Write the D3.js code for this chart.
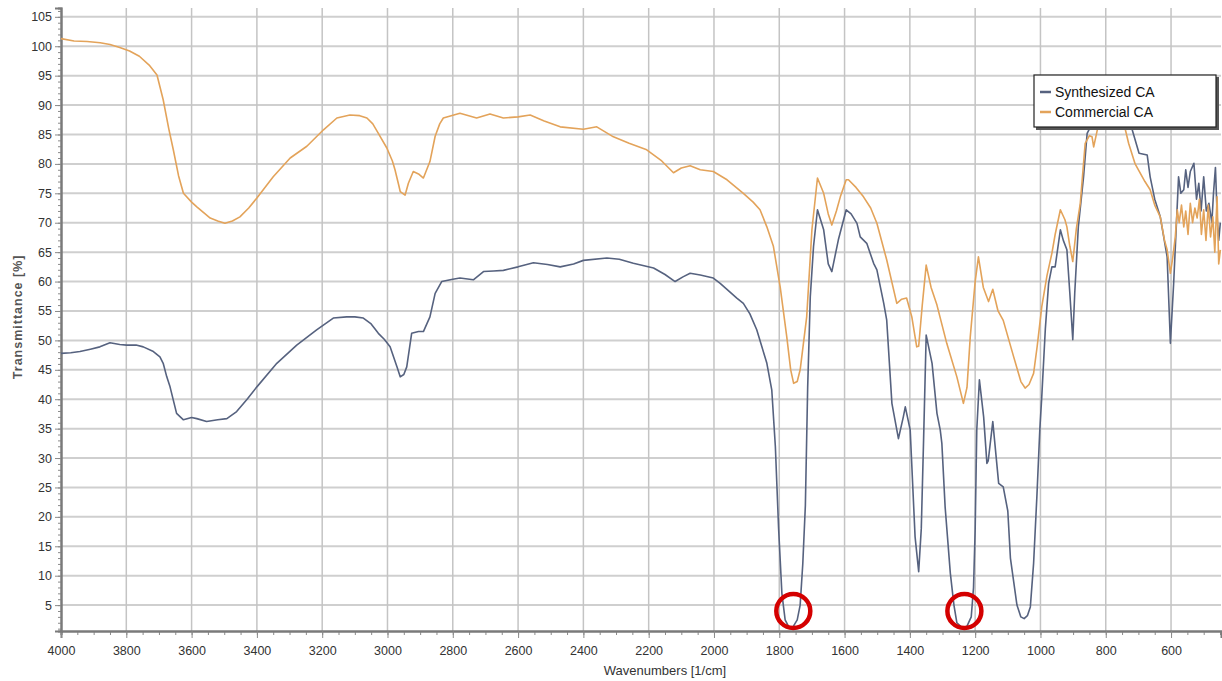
<!DOCTYPE html>
<html><head><meta charset="utf-8">
<script src="https://cdn.jsdelivr.net/npm/d3@7"></script>
<style>
html,body{margin:0;padding:0;background:#fff;}
svg{display:block;}
text{font-family:"Liberation Sans",Arial,sans-serif;}
</style></head>
<body>
<svg id="chart" width="1222" height="681"></svg>
<script>
const seriesNames = ["Synthesized CA", "Commercial CA"];
const seriesColors = ["#56627f", "#e3a35a"];

const synthesized = [
[4000,47.8],[3970,47.9],[3942,48.1],[3910,48.5],[3881,48.9],[3850,49.6],[3820,49.3],[3799,49.2],[3770,49.2],[3748,48.9],[3717,48.1],[3697,47.2],[3687,46.1],[3676,43.8],[3666,42.1],[3646,37.6],[3625,36.5],[3600,36.9],[3584,36.7],[3554,36.2],[3520,36.5],[3492,36.7],[3462,37.9],[3430,40],[3400,42.1],[3339,46.1],[3278,49.2],[3217,51.8],[3166,53.8],[3125,54.0],[3100,54.0],[3074,53.8],[3050,52.8],[3028,51.2],[3010,50.2],[2992,48.9],[2971,45.5],[2961,43.8],[2950,44.2],[2941,45.5],[2926,51.2],[2905,51.5],[2890,51.5],[2870,54.0],[2854,58.0],[2834,60.0],[2800,60.4],[2778,60.6],[2737,60.3],[2706,61.7],[2675,61.8],[2645,61.9],[2600,62.5],[2553,63.2],[2510,62.9],[2471,62.5],[2430,63],[2400,63.6],[2328,64.0],[2290,63.8],[2247,63.1],[2185,62.3],[2150,61.2],[2119,60.0],[2095,60.8],[2073,61.4],[2042,61.1],[2002,60.6],[1981,59.7],[1930,57.2],[1910,56.3],[1890,54.5],[1869,51.8],[1838,46.1],[1823,41.6],[1812,32],[1802,18],[1792,7],[1782,2.5],[1770,1.2],[1758,1.3],[1745,2.5],[1736,5],[1728,12],[1720,22],[1713,42],[1705,57.4],[1695,66.0],[1683,72.2],[1664,68.8],[1650,63],[1639,61.7],[1619,67.1],[1595,72.2],[1580,71.5],[1562,69.9],[1552,67.6],[1532,66.5],[1511,63.1],[1501,62],[1480,56.3],[1471,53.5],[1455,39.3],[1435,33.3],[1420,37],[1414,38.7],[1399,34.8],[1384,16.6],[1373,10.7],[1365,18],[1358,33],[1350,50.9],[1332,46.1],[1317,37.6],[1307,34.8],[1302,32.5],[1292,21.7],[1276,10.4],[1265,5],[1256,2],[1240,1.2],[1226,1.3],[1212,3],[1205,8],[1200,17.8],[1195,34.8],[1187,43.3],[1174,37.0],[1164,29.1],[1160,29.5],[1146,36.2],[1128,25.7],[1114,25.1],[1100,21],[1092,13],[1082,9],[1072,5],[1060,3],[1050,2.7],[1040,3.2],[1031,4.7],[1021,12.1],[1011,23.4],[1002,34.8],[996,40.4],[985,52],[975,59.7],[965,62.5],[955,62.5],[939,68.8],[930,67],[919,65.4],[910,58],[901,50.1],[895,58],[884,69.3],[868,77.8],[857,85.2],[840,87],[800,88],[760,87.5],[730,86.5],[719,85.8],[698,81.8],[673,81.5],[664,77.8],[650,74],[633,71.0],[612,64.2],[602,49.5],[592,59.7],[577,77.8],[570,75],[561,75.6],[555,79],[548,76],[541,78.7],[530,80.1],[522,74],[515,76.7],[508,72],[500,77.8],[492,72],[484,73.3],[475,70],[470,75],[464,79.4],[458,70],[454,67.0],[449,70]
];

const commercial = [
[4000,101.3],[3960,100.9],[3920,100.8],[3880,100.6],[3850,100.3],[3820,99.8],[3790,99.2],[3760,98.3],[3730,96.8],[3706,95.1],[3687,90.9],[3670,86],[3656,82.4],[3640,78],[3625,75.0],[3600,73.5],[3584,72.7],[3543,70.8],[3520,70.3],[3498,69.9],[3475,70.3],[3452,71.0],[3425,72.5],[3400,74.2],[3350,77.8],[3298,81.0],[3247,83.0],[3196,85.8],[3155,87.8],[3115,88.3],[3085,88.2],[3063,87.8],[3045,86.8],[3028,85.2],[3002,82.7],[2985,80.5],[2977,79.0],[2966,76.5],[2961,75.3],[2946,74.7],[2936,76.7],[2921,78.7],[2905,78.3],[2890,77.6],[2870,80.4],[2854,84.7],[2840,86.8],[2829,87.8],[2778,88.6],[2727,87.8],[2686,88.5],[2645,87.8],[2600,88.0],[2563,88.3],[2520,87.3],[2471,86.3],[2400,85.9],[2359,86.3],[2308,84.6],[2260,83.5],[2206,82.4],[2160,80.5],[2124,78.5],[2100,79.3],[2073,79.7],[2042,79.0],[2002,78.7],[1960,77.3],[1910,75.0],[1880,73.5],[1859,72.2],[1838,69.3],[1818,66.0],[1797,59],[1777,50.6],[1765,45],[1756,42.7],[1745,43],[1736,45.0],[1716,54.0],[1700,68.8],[1683,77.6],[1664,75.0],[1650,71.5],[1639,69.6],[1625,72],[1613,74.4],[1595,77.3],[1588,77.3],[1565,76],[1542,74.4],[1520,72.5],[1501,69.9],[1471,63.7],[1440,56.3],[1425,57.0],[1410,57.2],[1394,54.0],[1379,48.9],[1373,49],[1362,56],[1350,62.8],[1335,59],[1317,56],[1287,49.5],[1256,43.8],[1236,39.3],[1225,42],[1215,50.6],[1200,60],[1190,64.2],[1175,59],[1159,56.6],[1146,58.7],[1130,55],[1114,53.4],[1082,47.2],[1060,43],[1047,41.9],[1035,42.5],[1021,44.4],[1010,49],[996,55.7],[980,61],[965,64.8],[955,68],[939,72.2],[925,70.5],[919,69.3],[910,66],[901,63.4],[890,69],[878,73.3],[863,83.5],[850,84.8],[842,84.6],[837,82.9],[825,86],[800,87.5],[770,88],[745,87],[730,83.5],[710,80],[694,78.4],[680,77],[664,75.6],[650,73],[633,71.0],[620,67],[612,65.4],[602,61.4],[595,64],[587,67.6],[581,72.2],[575,70],[568,73],[561,69.3],[555,72],[548,68],[541,73.3],[534,70],[527,72.5],[520,70.8],[513,74],[507,68],[500,72.2],[493,67],[486,73],[479,67.6],[472,71],[466,65],[459,74.4],[454,63],[449,65.4]
];

const xTicks = [4000,3800,3600,3400,3200,3000,2800,2600,2400,2200,2000,1800,1600,1400,1200,1000,800,600];
const yTicks = [5,10,15,20,25,30,35,40,45,50,55,60,65,70,75,80,85,90,95,100,105];
const markedBands = [1757, 1233];
const markedLevel = 4;
const xTitle = "Wavenumbers [1/cm]";
const yTitle = "Transmittance [%]";

const svg = d3.select("#chart");
const x = d3.scaleLinear().domain([4000, 447]).range([61, 1221]);
const y = d3.scaleLinear().domain([0.6, 106.5]).range([631, 8]);

// grid
const grid = svg.append("g");
grid.selectAll("line.h").data(yTicks).join("line")
  .attr("x1", 61).attr("x2", 1221)
  .attr("y1", d => y(d)).attr("y2", d => y(d))
  .attr("stroke", "#cfcfcf").attr("stroke-width", 2);
grid.selectAll("line.v").data(xTicks.filter(d => d !== 4000)).join("line")
  .attr("x1", d => x(d)).attr("x2", d => x(d))
  .attr("y1", 8).attr("y2", 631)
  .attr("stroke", "#c4c4c4").attr("stroke-width", 1.5);

// axes
const xMinor = d3.range(4000, 447, -50);
const xAxisMinor = d3.axisBottom(x).tickValues(xMinor).tickSize(4).tickFormat("");
const xAxis = d3.axisBottom(x).tickValues(xTicks).tickSize(7).tickPadding(8).tickFormat(d3.format("d"));
const yMinor = d3.range(1, 107, 1);
const yAxisMinor = d3.axisLeft(y).tickValues(yMinor).tickSize(3).tickFormat("");
const yAxis = d3.axisLeft(y).tickValues(yTicks).tickSize(6).tickPadding(3).tickFormat(d3.format("d"));

function styleAxis(g){
  g.select(".domain").attr("stroke", "#7a7a7a").attr("stroke-width", 2);
  g.selectAll(".tick line").attr("stroke", "#8a8a8a");
  g.selectAll(".tick text").attr("fill", "#333").attr("font-size", 12.5)
   .attr("font-family", "'Liberation Sans', Arial, sans-serif");
}
svg.append("g").attr("transform", "translate(0,631)").call(xAxisMinor).call(styleAxis);
svg.append("g").attr("transform", "translate(0,631)").call(xAxis).call(styleAxis);
svg.append("g").attr("transform", "translate(61,0)").call(yAxisMinor).call(styleAxis);
svg.append("g").attr("transform", "translate(61,0)").call(yAxis).call(styleAxis);

// lines
const line = d3.line().x(d => x(d[0])).y(d => y(d[1])).curve(d3.curveLinear);
[synthesized, commercial].forEach((data, i) => {
  svg.append("path").datum(data)
    .attr("fill", "none").attr("stroke", seriesColors[i])
    .attr("stroke-width", 1.6).attr("stroke-linejoin", "round")
    .attr("d", line);
});

// red circles
svg.selectAll("circle.mark").data(markedBands).join("circle")
  .attr("cx", d => x(d)).attr("cy", y(markedLevel)).attr("r", 17)
  .attr("fill", "none").attr("stroke", "#d40000").attr("stroke-width", 4.5);

// titles
svg.append("text").attr("x", x(2150)).attr("y", 675).attr("text-anchor", "middle")
  .attr("font-size", 13).attr("fill", "#333").text(xTitle);
svg.append("text").attr("transform", `translate(22,${y(54)}) rotate(-90)`)
  .attr("text-anchor", "middle").attr("font-size", 12.5).attr("font-weight", "bold")
  .attr("letter-spacing", 1).attr("fill", "#555").text(yTitle);

// legend
const lg = svg.append("g").attr("transform", "translate(1034,75)");
lg.append("rect").attr("x", 2).attr("y", 2).attr("width", 183).attr("height", 53).attr("fill", "#555");
lg.append("rect").attr("x", 0).attr("y", 0).attr("width", 182).attr("height", 52)
  .attr("fill", "#fff").attr("stroke", "#222").attr("stroke-width", 1.2);
seriesNames.forEach((n, i) => {
  lg.append("line").attr("x1", 6).attr("x2", 17).attr("y1", 17 + i * 20).attr("y2", 17 + i * 20)
    .attr("stroke", seriesColors[i]).attr("stroke-width", 2.5);
  lg.append("text").attr("x", 21).attr("y", 22 + i * 20).attr("font-size", 14)
    .attr("fill", "#111").text(n);
});
</script>
</body></html>
